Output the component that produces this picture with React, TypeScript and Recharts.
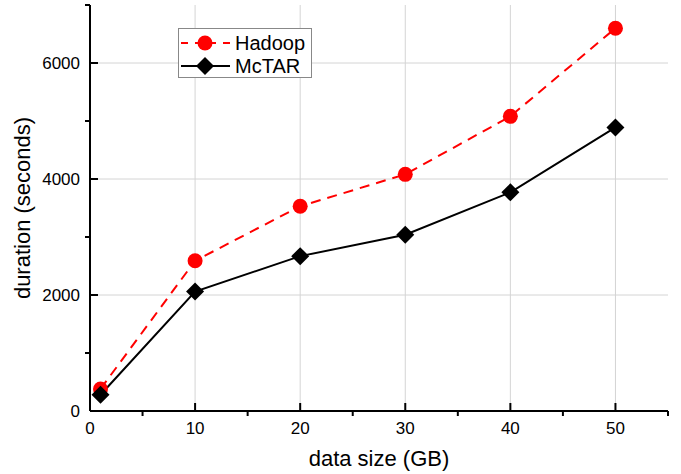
import { LineChart, Line, XAxis, YAxis, CartesianGrid } from "recharts";

const sizes = [1, 10, 20, 30, 40, 50];
const hadoop = [380, 2590, 3530, 4080, 5080, 6600];
const mctar = [280, 2060, 2670, 3040, 3770, 4890];

const xMajor = [0, 10, 20, 30, 40, 50];
const xMinor = [5, 15, 25, 35, 45, 55];
const yMajor = [0, 2000, 4000, 6000];
const yMinor = [1000, 3000, 5000, 7000];

const data = sizes.map((s, i) => ({ size: s, hadoop: hadoop[i], mctar: mctar[i] }));

const FONT = "'Liberation Sans', Arial, sans-serif";

const XTick = (props: any) => {
  const { x, y, payload } = props;
  const major = xMajor.includes(payload.value);
  return (
    <g>
      {major ? (
        <line x1={x} y1={y} x2={x} y2={y - 8} stroke="#000" strokeWidth={2} />
      ) : (
        <line x1={x} y1={y} x2={x} y2={y + 5} stroke="#000" strokeWidth={2} />
      )}
      {major && (
        <text x={x} y={y + 23} textAnchor="middle" fontSize={17} fontFamily={FONT} fill="#000">
          {payload.value}
        </text>
      )}
    </g>
  );
};

const YTick = (props: any) => {
  const { x, y, payload } = props;
  const major = yMajor.includes(payload.value);
  return (
    <g>
      {major ? (
        <line x1={x} y1={y} x2={x + 8} y2={y} stroke="#000" strokeWidth={2} />
      ) : (
        <line x1={x} y1={y} x2={x - 5} y2={y} stroke="#000" strokeWidth={2} />
      )}
      {major && (
        <text x={x - 10} y={y} dy="0.36em" textAnchor="end" fontSize={17} fontFamily={FONT} fill="#000">
          {payload.value}
        </text>
      )}
    </g>
  );
};

const Diamond = (props: any) => {
  const { cx, cy } = props;
  if (cx == null || cy == null) return null;
  const r = 9;
  return <polygon points={`${cx},${cy - r} ${cx + r},${cy} ${cx},${cy + r} ${cx - r},${cy}`} fill="#000" />;
};

const Dot = (props: any) => {
  const { cx, cy } = props;
  if (cx == null || cy == null) return null;
  return <circle cx={cx} cy={cy} r={7.5} fill="#ff0000" />;
};

const LegendBox = () => (
  <div
    style={{
      position: "absolute",
      left: 178,
      top: 28,
      width: 132,
      height: 48,
      border: "1px solid #888",
      background: "#fff",
    }}
  >
    <svg width={132} height={48} style={{ display: "block" }}>
      <line x1={2} y1={14} x2={51} y2={14} stroke="#ff0000" strokeWidth={2} strokeDasharray="7 7" />
      <circle cx={26} cy={14} r={7.5} fill="#ff0000" />
      <text x={56} y={21} fontSize={20} fontFamily={FONT} fill="#000">Hadoop</text>
      <line x1={2} y1={37} x2={51} y2={37} stroke="#000" strokeWidth={2} />
      <polygon points="26,28 35,37 26,46 17,37" fill="#000" />
      <text x={56} y={44} fontSize={20} fontFamily={FONT} fill="#000">McTAR</text>
    </svg>
  </div>
);

export default function App() {
  return (
    <div style={{ position: "absolute", left: 0, top: 0, width: 681, height: 474, background: "#fff" }}>
      <LineChart width={681} height={474} data={data} margin={{ top: 5, right: 13, left: 0, bottom: 0 }}>
        <CartesianGrid
          stroke="#d4d4d4"
          strokeWidth={1}
          horizontalValues={yMajor.filter((v) => v > 0)}
          verticalValues={xMajor.filter((v) => v > 0)}
        />
        <XAxis
          type="number"
          dataKey="size"
          domain={[0, 55]}
          ticks={[...xMajor, ...xMinor].sort((a, b) => a - b)}
          interval={0}
          height={63}
          tickSize={0}
          tickMargin={0}
          tickLine={false}
          tick={<XTick />}
          axisLine={{ stroke: "#000", strokeWidth: 2 }}
          label={{
            value: "data size (GB)",
            position: "insideBottom",
            offset: 8,
            style: { fontSize: 22, fontFamily: FONT, fill: "#000" },
          }}
        />
        <YAxis
          type="number"
          domain={[0, 7000]}
          ticks={[...yMajor, ...yMinor].sort((a, b) => a - b)}
          interval={0}
          width={90}
          tickSize={0}
          tickMargin={0}
          tickLine={false}
          tick={<YTick />}
          axisLine={{ stroke: "#000", strokeWidth: 2 }}
          label={{
            value: "duration (seconds)",
            angle: -90,
            position: "insideLeft",
            offset: 22,
            style: { fontSize: 22, fontFamily: FONT, fill: "#000", textAnchor: "middle" },
          }}
        />
        <Line
          type="linear"
          dataKey="hadoop"
          stroke="#ff0000"
          strokeWidth={2}
          strokeDasharray="10 7"
          dot={<Dot />}
          isAnimationActive={false}
        />
        <Line
          type="linear"
          dataKey="mctar"
          stroke="#000"
          strokeWidth={2}
          dot={<Diamond />}
          isAnimationActive={false}
        />
      </LineChart>
      <LegendBox />
    </div>
  );
}
